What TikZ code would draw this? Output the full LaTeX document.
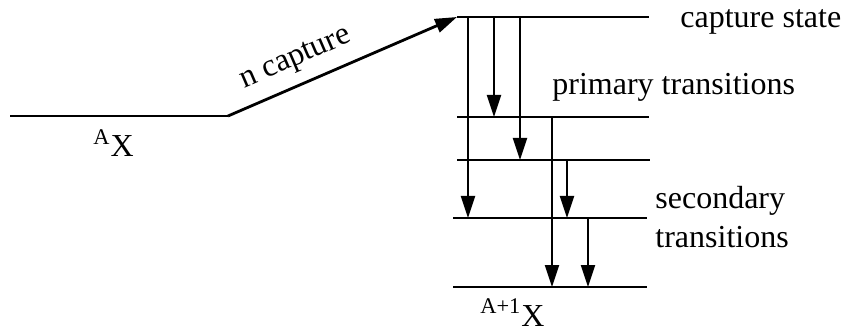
\documentclass[tikz,border=0pt]{standalone}
\usepackage{fontspec}
\setmainfont{Liberation Serif}
\usepackage{tikz}
\usetikzlibrary{arrows.meta,calc,positioning}

\tikzset{
  level/.style={line width=1.35pt},
  gam/.style={line width=1.1pt, -{Triangle[length=11pt,width=7pt]}},
  capt/.style={line width=1.4pt, -{Triangle[length=11pt,width=7pt]}},
  lbl/.style={inner sep=0pt, font=\fontsize{16}{19.5}\selectfont},
}

\begin{document}
\begin{tikzpicture}[x=0.5pt, y=-0.5pt]
  \useasboundingbox (0,0) rectangle (845,331);
  % levels of the compound nucleus
  \coordinate (L1) at (457,17);  \coordinate (R1) at (649,17);
  \coordinate (L2) at (457,117); \coordinate (R2) at (649,117);
  \coordinate (L3) at (457,160); \coordinate (R3) at (650,160);
  \coordinate (L4) at (453,218); \coordinate (R4) at (647,218);
  \coordinate (L5) at (453,287); \coordinate (R5) at (647,287);
  \foreach \i in {1,...,5}
    \draw[level] (L\i) -- (R\i);
  % target and capture
  \coordinate (g0) at (10,116);
  \coordinate (g1) at (228,116);
  \draw[level] (g0) -- (g1);
  \draw[capt] (g1) -- (L1)
    node[lbl, pos=0.34, sloped, above=5.5pt] {n capture};
  % gamma cascade
  \foreach \x/\a/\b in {468/1/4, 494/1/2, 520/1/3, 552/2/5, 567/3/4, 588/4/5}
    \draw[gam] (\x,0 |- L\a) -- (\x,0 |- L\b);
  \node[lbl, anchor=base west] (cs) at (680,28) {capture state};
  \node[lbl, anchor=base west] (pt) at (552,95) {primary transitions};
  \node[lbl, anchor=base west, align=left] (st) at (655,248) {secondary\\transitions};
  \node[lbl, anchor=base west] (ax) at (93,157) {\textsuperscript{A}X};
  \node[lbl, anchor=base west] (bx) at (480,326) {\textsuperscript{A+1}X};
\end{tikzpicture}
\end{document}
